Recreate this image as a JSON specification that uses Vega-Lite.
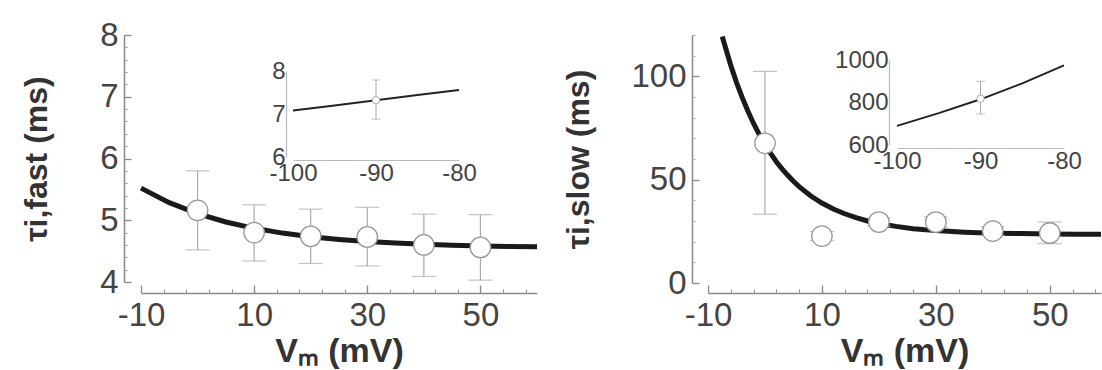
{
  "$schema": "https://vega.github.io/schema/vega-lite/v6.json",
  "width": 1102,
  "height": 370,
  "autosize": {"type": "none"},
  "padding": 0,
  "background": "white",
  "config": {
    "view": {"stroke": null},
    "axis": {
      "grid": false,
      "labelFont": "Liberation Sans",
      "titleFont": "Liberation Sans",
      "labelColor": "#444",
      "titleColor": "#333",
      "domainColor": "#888",
      "tickColor": "#888",
      "labelOverlap": false,
      "labelFlush": false
    }
  },
  "datasets": {
    "fastMain": [
      {"v": 0, "t": 5.16, "lo": 4.52, "hi": 5.80},
      {"v": 10, "t": 4.80, "lo": 4.34, "hi": 5.25},
      {"v": 20, "t": 4.74, "lo": 4.30, "hi": 5.18},
      {"v": 30, "t": 4.73, "lo": 4.26, "hi": 5.21},
      {"v": 40, "t": 4.60, "lo": 4.09, "hi": 5.10},
      {"v": 50, "t": 4.56, "lo": 4.03, "hi": 5.09}
    ],
    "fastFit": [
      {"v": -10, "t": 5.52}, {"v": -5, "t": 5.285}, {"v": 0, "t": 5.107},
      {"v": 5, "t": 4.972}, {"v": 10, "t": 4.869}, {"v": 15, "t": 4.792},
      {"v": 20, "t": 4.733}, {"v": 25, "t": 4.689}, {"v": 30, "t": 4.655},
      {"v": 35, "t": 4.630}, {"v": 40, "t": 4.610}, {"v": 45, "t": 4.596},
      {"v": 50, "t": 4.585}, {"v": 55, "t": 4.576}, {"v": 60, "t": 4.570}
    ],
    "fastInsetFit": [
      {"v": -100, "t": 7.08}, {"v": -95, "t": 7.20}, {"v": -90, "t": 7.32},
      {"v": -85, "t": 7.44}, {"v": -80, "t": 7.56}
    ],
    "fastInsetPt": [
      {"v": -90, "t": 7.32, "lo": 6.88, "hi": 7.79}
    ],
    "slowMain": [
      {"v": 0, "t": 67.6, "lo": 33.3, "hi": 102.4},
      {"v": 10, "t": 22.7, "lo": 20.5, "hi": 24.9},
      {"v": 20, "t": 29.5, "lo": 27.5, "hi": 31.5},
      {"v": 30, "t": 29.5, "lo": 27.0, "hi": 32.0},
      {"v": 40, "t": 25.1, "lo": 23.0, "hi": 27.2},
      {"v": 50, "t": 24.2, "lo": 19.0, "hi": 29.5}
    ],
    "slowFit": [
      {"v": -7.5, "t": 119.3}, {"v": -6, "t": 105.3}, {"v": -5, "t": 97.1},
      {"v": -4, "t": 89.8}, {"v": -3, "t": 83.2}, {"v": -2, "t": 77.2},
      {"v": -1, "t": 71.8}, {"v": 0, "t": 67.0}, {"v": 1, "t": 62.7},
      {"v": 2, "t": 58.7}, {"v": 3, "t": 55.2}, {"v": 4, "t": 52.1},
      {"v": 5, "t": 49.2}, {"v": 6, "t": 46.6}, {"v": 8, "t": 42.2},
      {"v": 10, "t": 38.7}, {"v": 12, "t": 35.8}, {"v": 14, "t": 33.5},
      {"v": 16, "t": 31.6}, {"v": 18, "t": 30.0}, {"v": 20, "t": 28.8},
      {"v": 23, "t": 27.4}, {"v": 26, "t": 26.3}, {"v": 30, "t": 25.4},
      {"v": 35, "t": 24.6}, {"v": 40, "t": 24.1}, {"v": 45, "t": 23.9},
      {"v": 50, "t": 23.7}, {"v": 55, "t": 23.6}, {"v": 59, "t": 23.6}
    ],
    "slowInsetFit": [
      {"v": -100, "t": 690}, {"v": -95, "t": 750}, {"v": -90, "t": 815},
      {"v": -85, "t": 890}, {"v": -80, "t": 975}
    ],
    "slowInsetPt": [
      {"v": -90, "t": 818, "lo": 746, "hi": 900}
    ]
  },
  "layer": [
    {
      "layer": [
        {
          "data": {"name": "fastFit"},
          "mark": {"type": "line", "color": "#1a1a1a", "strokeWidth": 5},
          "encoding": {
            "x": {
              "field": "v", "type": "quantitative",
              "scale": {"domain": [-10, 60], "range": [141, 537], "nice": false, "zero": false},
              "axis": {
                "orient": "bottom", "offset": -77, "title": "Vₘ (mV)",
                "values": [-10, 10, 30, 50], "ticks": false,
                "labelExpr": "'' + datum.value",
                "labelFontSize": 33, "labelPadding": 6,
                "titleFontSize": 34, "titleFontWeight": "bold", "titlePadding": 2,
                "domainWidth": 1.5
              }
            },
            "y": {
              "field": "t", "type": "quantitative",
              "scale": {"domain": [4, 8], "range": [282, 35], "nice": false, "zero": false},
              "axis": {
                "orient": "left", "offset": -124, "title": "τi,fast (ms)",
                "values": [4, 5, 6, 7, 8], "ticks": false,
                "labelExpr": "'' + datum.value",
                "labelFontSize": 33, "labelPadding": 6,
                "titleFontSize": 32, "titleFontWeight": "bold", "titlePadding": 46,
                "domainWidth": 1.5
              }
            }
          }
        },
        {
          "data": {"name": "fastMain"},
          "mark": {"type": "rule", "color": "#aaa", "strokeWidth": 1.2},
          "encoding": {
            "x": {"field": "v", "type": "quantitative", "axis": null},
            "y": {"field": "lo", "type": "quantitative", "axis": null},
            "y2": {"field": "hi"}
          }
        },
        {
          "data": {"name": "fastMain"},
          "mark": {"type": "tick", "orient": "horizontal", "color": "#aaa", "size": 24, "thickness": 1.2},
          "encoding": {
            "x": {"field": "v", "type": "quantitative", "axis": null},
            "y": {"field": "lo", "type": "quantitative", "axis": null}
          }
        },
        {
          "data": {"name": "fastMain"},
          "mark": {"type": "tick", "orient": "horizontal", "color": "#aaa", "size": 24, "thickness": 1.2},
          "encoding": {
            "x": {"field": "v", "type": "quantitative", "axis": null},
            "y": {"field": "hi", "type": "quantitative", "axis": null}
          }
        },
        {
          "data": {"name": "fastMain"},
          "mark": {"type": "point", "shape": "circle", "filled": true, "fill": "white", "stroke": "#999", "strokeWidth": 1.3, "size": 420, "opacity": 1},
          "encoding": {
            "x": {"field": "v", "type": "quantitative", "axis": null},
            "y": {"field": "t", "type": "quantitative", "axis": null}
          }
        },
        {
          "data": {"name": "fastFit"},
          "mark": {"type": "point", "opacity": 0},
          "encoding": {
            "x": {"field": "v", "type": "quantitative", "axis": {"orient": "top", "offset": -293, "title": null, "values": [-10, 10, 30, 50], "labels": false, "domain": false, "tickSize": 8, "tickWidth": 1.3}},
            "y": {"field": "t", "type": "quantitative", "axis": {"orient": "right", "offset": -978, "title": null, "values": [4, 5, 6, 7, 8], "labels": false, "domain": false, "tickSize": 7, "tickWidth": 1.3}}
          }
        },
        {
          "data": {"name": "fastFit"},
          "mark": {"type": "point", "opacity": 0},
          "encoding": {
            "x": {"field": "v", "type": "quantitative", "axis": {"orient": "top", "offset": -293, "title": null, "values": [-6, -2, 2, 6, 14, 18, 22, 26, 34, 38, 42, 46, 54, 58], "labels": false, "domain": false, "tickSize": 4, "tickColor": "#999"}},
            "y": {"field": "t", "type": "quantitative", "axis": {"orient": "right", "offset": -978, "title": null, "values": [4.2, 4.4, 4.6, 4.8, 5.2, 5.4, 5.6, 5.8, 6.2, 6.4, 6.6, 6.8, 7.2, 7.4, 7.6, 7.8], "labels": false, "domain": false, "tickSize": 3, "tickColor": "#999"}}
          }
        }
      ],
      "resolve": {"axis": {"x": "independent", "y": "independent"}}
    },
    {
      "layer": [
        {
          "data": {"name": "fastInsetFit"},
          "mark": {"type": "line", "color": "#222", "strokeWidth": 2},
          "encoding": {
            "x": {
              "field": "v", "type": "quantitative",
              "scale": {"domain": [-100, -80], "range": [293, 459], "nice": false, "zero": false},
              "axis": {
                "orient": "bottom", "offset": -210, "title": null,
                "values": [-100, -90, -80], "ticks": false,
                "labelExpr": "'' + datum.value",
                "labelFontSize": 24, "labelPadding": 1,
                "domainColor": "#bbb", "domainWidth": 1.2
              }
            },
            "y": {
              "field": "t", "type": "quantitative",
              "scale": {"domain": [6, 8], "range": [157, 71], "nice": false, "zero": false},
              "axis": {
                "orient": "left", "offset": -286, "title": null,
                "values": [6, 7, 8], "ticks": false,
                "labelExpr": "'' + datum.value",
                "labelFontSize": 24, "labelPadding": 1,
                "domainColor": "#bbb", "domainWidth": 1.2
              }
            }
          }
        },
        {
          "data": {"name": "fastInsetPt"},
          "mark": {"type": "rule", "color": "#aaa", "strokeWidth": 1},
          "encoding": {
            "x": {"field": "v", "type": "quantitative"},
            "y": {"field": "lo", "type": "quantitative"},
            "y2": {"field": "hi"}
          }
        },
        {
          "data": {"name": "fastInsetPt"},
          "mark": {"type": "tick", "orient": "horizontal", "color": "#aaa", "size": 9, "thickness": 1},
          "encoding": {
            "x": {"field": "v", "type": "quantitative"},
            "y": {"field": "lo", "type": "quantitative"}
          }
        },
        {
          "data": {"name": "fastInsetPt"},
          "mark": {"type": "tick", "orient": "horizontal", "color": "#aaa", "size": 9, "thickness": 1},
          "encoding": {
            "x": {"field": "v", "type": "quantitative"},
            "y": {"field": "hi", "type": "quantitative"}
          }
        },
        {
          "data": {"name": "fastInsetPt"},
          "mark": {"type": "point", "shape": "circle", "filled": true, "fill": "white", "stroke": "#aaa", "strokeWidth": 1, "size": 55, "opacity": 1},
          "encoding": {
            "x": {"field": "v", "type": "quantitative"},
            "y": {"field": "t", "type": "quantitative"}
          }
        }
      ]
    },
    {
      "layer": [
        {
          "data": {"name": "slowFit"},
          "mark": {"type": "line", "color": "#1a1a1a", "strokeWidth": 5},
          "encoding": {
            "x": {
              "field": "v", "type": "quantitative",
              "scale": {"domain": [-10, 59], "range": [708, 1101], "nice": false, "zero": false},
              "axis": {
                "orient": "bottom", "offset": -77, "title": "Vₘ (mV)",
                "values": [-10, 10, 30, 50], "ticks": false,
                "labelExpr": "'' + datum.value",
                "labelFontSize": 33, "labelPadding": 6,
                "titleFontSize": 34, "titleFontWeight": "bold", "titlePadding": 2,
                "domainWidth": 1.5
              }
            },
            "y": {
              "field": "t", "type": "quantitative",
              "scale": {"domain": [0, 120], "range": [283, 35], "nice": false, "zero": false},
              "axis": {
                "orient": "left", "offset": -692, "title": "τi,slow (ms)",
                "values": [0, 50, 100], "ticks": false,
                "labelExpr": "'' + datum.value",
                "labelFontSize": 33, "labelPadding": 6,
                "titleFontSize": 32, "titleFontWeight": "bold", "titlePadding": 35,
                "domainWidth": 1.5
              }
            }
          }
        },
        {
          "data": {"name": "slowMain"},
          "mark": {"type": "rule", "color": "#aaa", "strokeWidth": 1.2},
          "encoding": {
            "x": {"field": "v", "type": "quantitative", "axis": null},
            "y": {"field": "lo", "type": "quantitative", "axis": null},
            "y2": {"field": "hi"}
          }
        },
        {
          "data": {"name": "slowMain"},
          "mark": {"type": "tick", "orient": "horizontal", "color": "#aaa", "size": 24, "thickness": 1.2},
          "encoding": {
            "x": {"field": "v", "type": "quantitative", "axis": null},
            "y": {"field": "lo", "type": "quantitative", "axis": null}
          }
        },
        {
          "data": {"name": "slowMain"},
          "mark": {"type": "tick", "orient": "horizontal", "color": "#aaa", "size": 24, "thickness": 1.2},
          "encoding": {
            "x": {"field": "v", "type": "quantitative", "axis": null},
            "y": {"field": "hi", "type": "quantitative", "axis": null}
          }
        },
        {
          "data": {"name": "slowMain"},
          "mark": {"type": "point", "shape": "circle", "filled": true, "fill": "white", "stroke": "#999", "strokeWidth": 1.3, "size": 420, "opacity": 1},
          "encoding": {
            "x": {"field": "v", "type": "quantitative", "axis": null},
            "y": {"field": "t", "type": "quantitative", "axis": null}
          }
        },
        {
          "data": {"name": "slowFit"},
          "mark": {"type": "point", "opacity": 0},
          "encoding": {
            "x": {"field": "v", "type": "quantitative", "axis": {"orient": "top", "offset": -293, "title": null, "values": [-10, 10, 30, 50], "labels": false, "domain": false, "tickSize": 8, "tickWidth": 1.3}},
            "y": {"field": "t", "type": "quantitative", "axis": {"orient": "right", "offset": -410, "title": null, "values": [0, 50, 100], "labels": false, "domain": false, "tickSize": 7, "tickWidth": 1.3}}
          }
        },
        {
          "data": {"name": "slowFit"},
          "mark": {"type": "point", "opacity": 0},
          "encoding": {
            "x": {"field": "v", "type": "quantitative", "axis": {"orient": "top", "offset": -293, "title": null, "values": [-6, -2, 2, 6, 14, 18, 22, 26, 34, 38, 42, 46, 54, 58], "labels": false, "domain": false, "tickSize": 4, "tickColor": "#999"}},
            "y": {"field": "t", "type": "quantitative", "axis": {"orient": "right", "offset": -410, "title": null, "values": [10, 20, 30, 40, 60, 70, 80, 90, 110, 120], "labels": false, "domain": false, "tickSize": 3, "tickColor": "#aaa"}}
          }
        }
      ],
      "resolve": {"axis": {"x": "independent", "y": "independent"}}
    },
    {
      "layer": [
        {
          "data": {"name": "slowInsetFit"},
          "mark": {"type": "line", "color": "#222", "strokeWidth": 2},
          "encoding": {
            "x": {
              "field": "v", "type": "quantitative",
              "scale": {"domain": [-100, -80], "range": [897, 1064], "nice": false, "zero": false},
              "axis": {
                "orient": "bottom", "offset": -222, "title": null,
                "values": [-100, -90, -80], "ticks": false,
                "labelExpr": "'' + datum.value",
                "labelFontSize": 24, "labelPadding": 1,
                "domainColor": "#bbb", "domainWidth": 1.2
              }
            },
            "y": {
              "field": "t", "type": "quantitative",
              "scale": {"domain": [600, 1000], "range": [145, 60], "nice": false, "zero": false},
              "axis": {
                "orient": "left", "offset": -889, "title": null,
                "values": [600, 800, 1000], "ticks": false,
                "labelExpr": "'' + datum.value",
                "labelFontSize": 24, "labelPadding": 1,
                "domainColor": "#bbb", "domainWidth": 1.2
              }
            }
          }
        },
        {
          "data": {"name": "slowInsetPt"},
          "mark": {"type": "rule", "color": "#aaa", "strokeWidth": 1},
          "encoding": {
            "x": {"field": "v", "type": "quantitative"},
            "y": {"field": "lo", "type": "quantitative"},
            "y2": {"field": "hi"}
          }
        },
        {
          "data": {"name": "slowInsetPt"},
          "mark": {"type": "tick", "orient": "horizontal", "color": "#aaa", "size": 9, "thickness": 1},
          "encoding": {
            "x": {"field": "v", "type": "quantitative"},
            "y": {"field": "lo", "type": "quantitative"}
          }
        },
        {
          "data": {"name": "slowInsetPt"},
          "mark": {"type": "tick", "orient": "horizontal", "color": "#aaa", "size": 9, "thickness": 1},
          "encoding": {
            "x": {"field": "v", "type": "quantitative"},
            "y": {"field": "hi", "type": "quantitative"}
          }
        },
        {
          "data": {"name": "slowInsetPt"},
          "mark": {"type": "point", "shape": "circle", "filled": true, "fill": "white", "stroke": "#aaa", "strokeWidth": 1, "size": 55, "opacity": 1},
          "encoding": {
            "x": {"field": "v", "type": "quantitative"},
            "y": {"field": "t", "type": "quantitative"}
          }
        }
      ]
    }
  ],
  "resolve": {
    "scale": {"x": "independent", "y": "independent"},
    "axis": {"x": "independent", "y": "independent"}
  }
}
